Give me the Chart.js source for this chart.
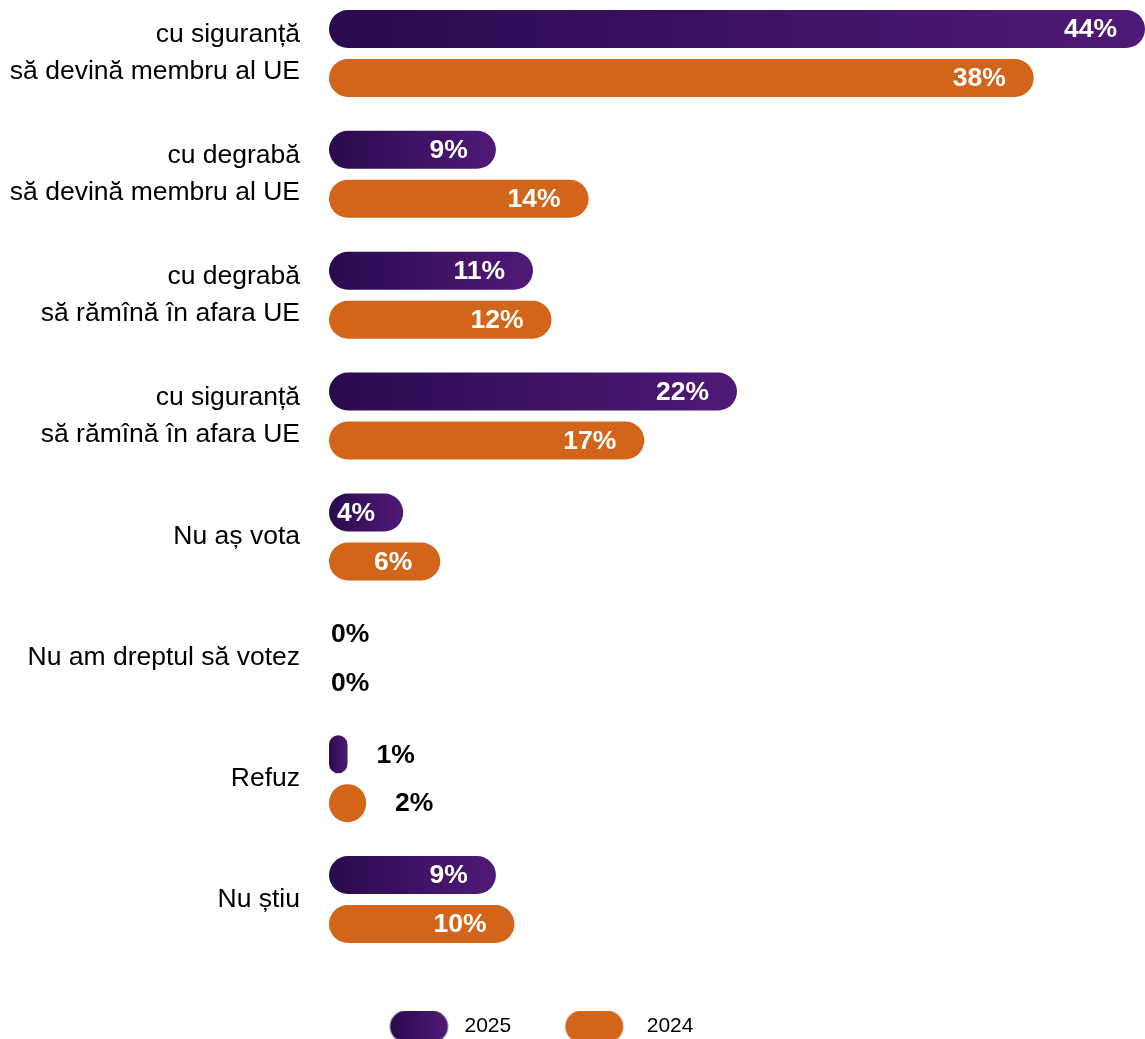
<!DOCTYPE html>
<html>
<head>
<meta charset="utf-8">
<script src="https://cdn.jsdelivr.net/npm/chart.js@4"></script>
<style>
  html, body { margin: 0; padding: 0; background: #fff; overflow: hidden; }
  #wrap { position: absolute; left: 0; top: -7px; width: 1145px; height: 1054px; }
</style>
</head>
<body>
<div id="wrap"><canvas id="euChart"></canvas></div>
<script>
// categories (multi-line labels)
const categories = [
  ["cu siguranță", "să devină membru al UE"],
  ["cu degrabă", "să devină membru al UE"],
  ["cu degrabă", "să rămînă în afara UE"],
  ["cu siguranță", "să rămînă în afara UE"],
  "Nu aș vota",
  "Nu am dreptul să votez",
  "Refuz",
  "Nu știu",
];
const seriesNames = ["2025", "2024"];
const values2025 = [44, 9, 11, 22, 4, 0, 1, 9];
const values2024 = [38, 14, 12, 17, 6, 0, 2, 10];

const purpleDark = "#2a0a4e";
const purpleLight = "#4f1a77";
const orange = "#d3651a";

// per-bar horizontal gradient for 2025
const purpleFill = (c) => {
  const chart = c.chart;
  if (!chart.chartArea || c.raw == null) return purpleDark;
  const x0 = chart.scales.x.getPixelForValue(0);
  const x1 = chart.scales.x.getPixelForValue(c.raw);
  if (x1 - x0 < 1) return purpleDark;
  const g = chart.ctx.createLinearGradient(x0, 0, x1, 0);
  g.addColorStop(0, purpleDark);
  g.addColorStop(1, purpleLight);
  return g;
};

// legend pills
const makePill = (w, h, offset, fill) => {
  const cv = document.createElement("canvas");
  cv.width = w;
  cv.height = h;
  const c = cv.getContext("2d");
  const pw = 58;
  let f = fill;
  if (fill === "grad") {
    f = c.createLinearGradient(offset, 0, offset + pw, 0);
    f.addColorStop(0, purpleDark);
    f.addColorStop(1, purpleLight);
  }
  c.fillStyle = f;
  c.beginPath();
  c.roundRect(offset, 0, pw, h, h / 2);
  c.fill();
  return cv;
};
const legendPills = [makePill(74, 32, 7.5, "grad"), makePill(74, 32, 0.5, orange)];

// value labels
const valueLabels = {
  id: "valueLabels",
  afterDatasetsDraw(chart) {
    const ctx = chart.ctx;
    ctx.save();
    ctx.font = "bold 26.5px 'Liberation Sans', Arial, sans-serif";
    ctx.textBaseline = "middle";
    chart.data.datasets.forEach((ds, di) => {
      const meta = chart.getDatasetMeta(di);
      meta.data.forEach((bar, i) => {
        const v = ds.data[i];
        const txt = v + "%";
        if (v >= 3) {
          ctx.fillStyle = "#fff";
          ctx.textAlign = "right";
          ctx.fillText(txt, bar.x - 28, bar.y + 1);
        } else if (v === 0) {
          ctx.fillStyle = "#000";
          ctx.textAlign = "left";
          ctx.fillText(txt, bar.base + 2, bar.y + 1);
        } else {
          ctx.fillStyle = "#000";
          ctx.textAlign = "left";
          ctx.fillText(txt, bar.x + 29, bar.y + 1);
        }
      });
    });
    ctx.restore();
  },
};

const ctx = document.getElementById("euChart").getContext("2d");
const euChart = new Chart(ctx, {
  type: "bar",
  data: {
    labels: categories,
    datasets: [
      {
        label: seriesNames[0],
        data: values2025,
        backgroundColor: purpleFill,
      },
      {
        label: seriesNames[1],
        data: values2024,
        backgroundColor: orange,
      },
    ],
  },
  options: {
    indexAxis: "y",
    responsive: true,
    maintainAspectRatio: false,
    animation: false,
    layout: { padding: 0 },
    datasets: {
      bar: {
        categoryPercentage: 0.81,
        barPercentage: 0.7755,
        borderRadius: 19,
        borderSkipped: false,
      },
    },
    plugins: {
      tooltip: { enabled: false },
      legend: {
        position: "bottom",
        align: "start",
        fullSize: false,
        labels: {
          usePointStyle: true,
          pointStyleWidth: 69,
          padding: 56,
          color: "#000",
          font: { size: 21, family: "'Liberation Sans', Arial, sans-serif" },
          generateLabels: (chart) =>
            chart.data.datasets.map((ds, i) => ({
              text: ds.label,
              pointStyle: legendPills[i],
              fillStyle: "transparent",
              strokeStyle: "transparent",
              lineWidth: 0,
              hidden: false,
              datasetIndex: i,
              fontColor: "#000",
            })),
        },
      },
    },
    scales: {
      x: {
        display: false,
        min: 0,
        max: 44,
      },
      y: {
        grid: { display: false, drawTicks: false },
        border: { display: false },
        ticks: {
          color: "#000",
          padding: 29,
          font: { size: 26.5, family: "'Liberation Sans', Arial, sans-serif", lineHeight: 1.38 },
        },
        afterFit: (scale) => {
          scale.width = 329;
          scale.paddingTop = 0;
          scale.paddingBottom = 0;
        },
      },
    },
  },
  plugins: [valueLabels],
});
</script>
</body>
</html>
